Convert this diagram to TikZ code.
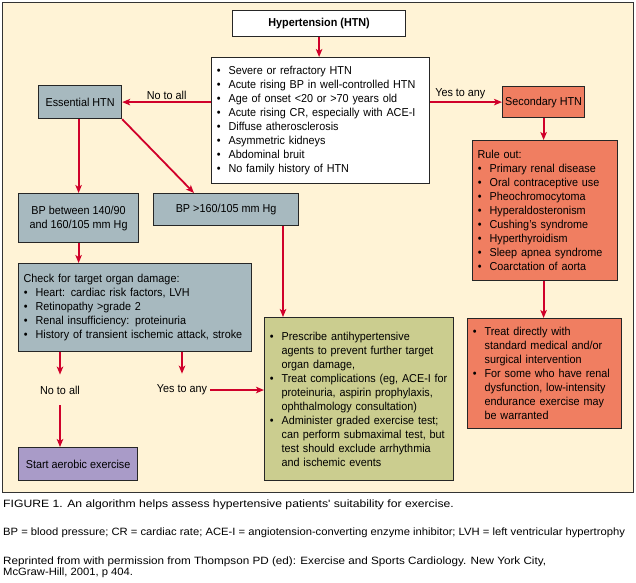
\documentclass[tikz,border=0pt]{standalone}
\usepackage{graphicx}
\usepackage{fontspec}
\setmainfont[FakeStretch=0.94]{Liberation Sans}
\newfontfamily\capfont[FakeStretch=1.06]{Liberation Sans}
\usetikzlibrary{arrows.meta}
\definecolor{cream}{HTML}{FFF3D6}
\definecolor{bgray}{HTML}{A7B9BF}
\definecolor{salmon}{HTML}{F07E61}
\definecolor{olive}{HTML}{CBCD8F}
\definecolor{lilac}{HTML}{A99BC8}
\definecolor{arrred}{HTML}{D0002A}
\newcommand{\mybul}{\makebox[12pt][l]{\hspace{0.3pt}\textbullet}}
\newcommand{\myind}{\hspace*{12pt}}
\begin{document}
\begin{tikzpicture}[x=1pt,y=-1pt,
  box/.style={draw=black!85, line width=1.2pt, anchor=north west, inner sep=0pt,
    font=\fontsize{11.5}{14}\selectfont},
  listbox/.style={box, inner xsep=5pt, align=left},
  arr/.style={draw=arrred, line width=1.8pt, -{Stealth[length=8pt,width=6.5pt,inset=2pt]}},
  lbl/.style={font=\fontsize{11.5}{14}\selectfont, inner sep=2pt},
  captxt/.style={anchor=base west, inner sep=0pt, font=\capfont\fontsize{10.6}{12}\selectfont}]
\useasboundingbox (0,0) rectangle (636,582);
\fill[white] (0,0) rectangle (636,582);
\draw[fill=cream, draw=black!80, line width=1pt] (2,2) rectangle (633,492);

\node[box, fill=white, minimum width=173pt, minimum height=26pt, font=\fontsize{11.5}{14}\selectfont\bfseries] (title) at (232,10) {Hypertension (HTN)};

\node[listbox, fill=white, text width=208pt, minimum height=126pt] (crit) at (211,57) {%
\mybul Severe or refractory HTN\\
\mybul Acute rising BP in well-controlled HTN\\
\mybul Age of onset <20 or >70 years old\\
\mybul Acute rising CR, especially with ACE-I\\
\mybul Diffuse atherosclerosis\\
\mybul Asymmetric kidneys\\
\mybul Abdominal bruit\\
\mybul No family history of HTN};

\node[box, fill=bgray, minimum width=83pt, minimum height=33pt] (ess) at (38,85) {Essential HTN};
\node[box, fill=salmon, minimum width=82pt, minimum height=31pt] (sec) at (502,86) {Secondary HTN};

\node[listbox, fill=salmon, text width=135pt, minimum height=140pt] (rule) at (472,140) {%
Rule out:\\
\mybul Primary renal disease\\
\mybul Oral contraceptive use\\
\mybul Pheochromocytoma\\
\mybul Hyperaldosteronism\\
\mybul Cushing's syndrome\\
\mybul Hyperthyroidism\\
\mybul Sleep apnea syndrome\\
\mybul Coarctation of aorta};

\node[listbox, fill=salmon, text width=144pt, minimum height=110pt] (treat) at (467,318) {%
\mybul Treat directly with\\
\myind standard medical and/or\\
\myind surgical intervention\\
\mybul For some who have renal\\
\myind dysfunction, low-intensity\\
\myind endurance exercise may\\
\myind be warranted};

\node[box, fill=bgray, minimum width=120pt, minimum height=49pt, align=center] (bpb) at (18,193) {BP between 140/90\\and 160/105 mm Hg};
\node[box, fill=bgray, minimum width=145pt, minimum height=32pt] (bph) at (153,193) {BP >160/105 mm Hg};

\node[listbox, fill=bgray, text width=223pt, minimum height=88pt] (check) at (18,263) {%
Check for target organ damage:\\
\mybul Heart: cardiac risk factors, LVH\\
\mybul Retinopathy >grade 2\\
\mybul Renal insufficiency: proteinuria\\
\mybul History of transient ischemic attack, stroke};

\node[listbox, fill=olive, text width=179pt, minimum height=163pt] (presc) at (264,317) {%
\mybul Prescribe antihypertensive\\
\myind agents to prevent further target\\
\myind organ damage,\\
\mybul Treat complications (eg, ACE-I for\\
\myind proteinuria, aspirin prophylaxis,\\
\myind ophthalmology consultation)\\
\mybul Administer graded exercise test;\\
\myind can perform submaximal test, but\\
\myind test should exclude arrhythmia\\
\myind and ischemic events};

\node[lbl, inner ysep=11pt] (noall) at (60,390) {No to all};
\node[lbl, inner ysep=11pt, inner xsep=3pt] (yesany) at (182,390) {Yes to any};

\node[box, fill=lilac, minimum width=119pt, minimum height=33pt] (start) at (18,447) {Start aerobic exercise};

\coordinate (xbph) at (283,0);
\coordinate (xdiag) at (194,0);

\draw[arr] (title.south) -- (title.south |- crit.north);
\draw[arr] (crit.west |- ess.east) -- node[lbl, above] {No to all} (ess.east);
\draw[arr] (crit.east |- sec.west) -- node[lbl, above, pos=0.42] {Yes to any} (sec.west);
\draw[arr] (sec.south) -- (sec.south |- rule.north);
\draw[arr] (rule.south -| sec.south) -- (treat.north -| sec.south);
\draw[arr] (ess.south -| bpb.north) -- (bpb.north);
\draw[arr] (ess.south east) -- (bph.north -| xdiag);
\draw[arr] (bpb.south) -- (bpb.south |- check.north);
\draw[arr] (bph.south -| xbph) -- (presc.north -| xbph);
\draw[arr] (check.south -| noall.north) -- (noall.north);
\draw[arr] (check.south -| yesany.north) -- (yesany.north);
\draw[arr] (noall.south) -- (noall.south |- start.north);
\draw[arr] (yesany.east) -- (yesany.east -| presc.west);

\node[captxt] (c1) at (3,507) {\scalebox{1.085}[1]{FIGURE 1. An algorithm helps assess hypertensive patients' suitability for exercise.}};
\node[captxt] (c2) at (3,535.5) {BP = blood pressure; CR = cardiac rate; ACE-I = angiotension-converting enzyme inhibitor; LVH = left ventricular hypertrophy};
\node[captxt] (c3) at (3,564) {\scalebox{1.04}[1]{Reprinted from with permission from Thompson PD (ed): Exercise and Sports Cardiology. New York City,}};
\node[captxt] (c4) at (3,575) {McGraw-Hill, 2001, p 404.};
\end{tikzpicture}
\end{document}
